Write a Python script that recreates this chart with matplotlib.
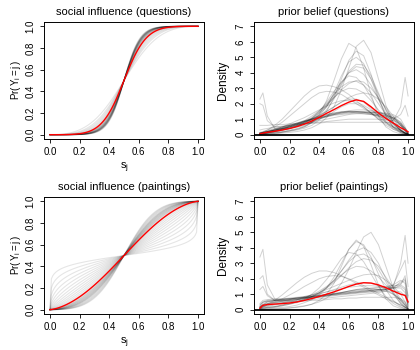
import matplotlib
matplotlib.use("Agg")
import matplotlib.pyplot as plt
import numpy as np

plt.rcParams['font.family'] = ['Liberation Sans', 'DejaVu Sans']
plt.rcParams['mathtext.fontset'] = 'custom'
plt.rcParams['mathtext.rm'] = 'Liberation Sans'
plt.rcParams['mathtext.it'] = 'Liberation Sans:italic'

# s_j grid for the social influence curves
s_grid = np.linspace(0, 1, 101)

# exponents of Pr(Y_i = j) = s^a / (s^a + (1-s)^a), one per gray curve
expo_questions = [2.2, 2.5, 2.7, 2.9, 3.1, 3.3, 3.5, 3.6, 3.7, 3.8, 3.9, 4.0, 4.0,
                  4.1, 4.2, 4.2, 4.3, 4.3, 4.4, 4.4, 4.5, 4.5, 4.6, 4.7, 4.8]
expo_questions_mean = 3.4
expo_paintings = [0.2, 0.3, 0.4, 0.5, 0.6, 0.7, 0.8, 0.9, 1.0, 1.1, 1.2, 1.3, 1.4,
                  1.5, 1.6, 1.6, 1.7, 1.7, 1.8, 1.8, 1.9, 1.9, 2.0, 2.0, 2.1,
                  2.2, 2.3, 2.4, 2.5]
expo_paintings_mean = 1.45

# prior belief densities, read at these x positions
dens_x = [0, .02, .05, .1, .15, .2, .25, .3, .35, .4, .45, .5, .55, .6, .65,
          .7, .75, .8, .85, .9, .95, .98, 1.0]

dens_questions = [
    [0.05,0.1,0.2,0.35,0.5,0.6,0.75,0.9,1.0,1.1,1.2,1.3,1.4,1.45,1.45,1.45,1.45,1.4,1.35,1.2,0.8,0.4,0.1],
    [0.02,0.08,0.15,0.3,0.45,0.55,0.7,0.85,1.0,1.15,1.3,1.4,1.5,1.5,1.5,1.45,1.4,1.3,1.2,1.0,0.6,0.25,0.05],
    [0.1,0.15,0.25,0.4,0.5,0.65,0.75,0.85,0.95,1.05,1.15,1.25,1.3,1.35,1.4,1.4,1.35,1.3,1.25,1.1,0.7,0.3,0.05],
    [0.3,0.35,0.4,0.5,0.55,0.6,0.65,0.7,0.75,0.8,0.85,0.9,0.95,1.0,1.0,1.0,1.0,1.0,0.95,0.9,0.7,0.4,0.1],
    [0.0,0.05,0.1,0.25,0.4,0.55,0.7,0.85,1.0,1.1,1.2,1.3,1.35,1.4,1.45,1.45,1.45,1.45,1.4,1.3,1.0,0.5,0.1],
    [0.0,0.03,0.1,0.2,0.35,0.5,0.65,0.8,0.95,1.1,1.25,1.35,1.45,1.5,1.5,1.5,1.45,1.4,1.3,1.1,0.7,0.3,0.05],
    [0.05,0.1,0.15,0.3,0.4,0.5,0.6,0.75,0.9,1.05,1.2,1.35,1.45,1.55,1.6,1.6,1.55,1.45,1.3,1.05,0.6,0.25,0.05],
    [0.1,0.15,0.2,0.3,0.45,0.6,0.75,0.9,1.05,1.2,1.3,1.4,1.45,1.45,1.4,1.35,1.3,1.25,1.2,1.1,0.8,0.4,0.1],
    [0,0,0.02,0.05,0.1,0.15,0.2,0.3,0.45,0.7,1.1,1.8,2.9,4.3,5.7,6.1,5.3,3.6,1.9,0.8,0.25,0.08,0],
    [0,0.01,0.03,0.08,0.15,0.25,0.35,0.5,0.8,1.3,2.2,3.5,4.9,5.9,5.6,4.3,2.6,1.2,0.5,0.2,0.05,0.02,0],
    [0.02,0.05,0.1,0.15,0.2,0.3,0.4,0.55,0.8,1.2,1.8,2.7,3.8,4.7,5.0,4.6,3.6,2.3,1.2,0.5,0.15,0.05,0],
    [0.05,0.08,0.12,0.2,0.3,0.4,0.55,0.75,1.0,1.4,1.9,2.6,3.4,4.0,4.2,3.9,3.2,2.3,1.4,0.7,0.25,0.1,0.02],
    [0.05,0.1,0.15,0.25,0.35,0.5,0.65,0.85,1.1,1.5,2.0,2.6,3.1,3.4,3.45,3.2,2.7,2.0,1.3,0.7,0.3,0.1,0.02],
    [0.1,0.15,0.2,0.3,0.4,0.55,0.7,0.9,1.2,1.55,1.95,2.4,2.8,3.0,2.95,2.7,2.2,1.6,1.1,0.65,0.3,0.12,0.03],
    [0.02,0.04,0.08,0.12,0.18,0.25,0.35,0.5,0.75,1.1,1.6,2.3,3.2,4.1,4.55,4.5,3.8,2.7,1.6,0.8,0.3,0.1,0],
    [0.1,0.15,0.2,0.3,0.4,0.5,0.65,0.8,1.0,1.25,1.5,1.8,2.1,2.4,2.6,2.7,2.6,2.3,1.8,1.2,0.6,0.25,0.05],
    [0.03,0.06,0.1,0.18,0.28,0.4,0.55,0.75,1.05,1.5,2.1,2.8,3.4,3.8,3.7,3.2,2.4,1.5,0.8,0.35,0.12,0.04,0],
    [0,0.02,0.05,0.1,0.15,0.22,0.3,0.42,0.6,0.95,1.5,2.4,3.6,4.8,5.4,5.1,3.9,2.4,1.2,0.45,0.12,0.03,0],
    [0.05,0.1,0.15,0.2,0.3,0.4,0.55,0.7,0.95,1.3,1.8,2.5,3.3,4.0,4.4,4.3,3.6,2.6,1.6,0.8,0.3,0.1,0.02],
    [0.1,0.12,0.18,0.25,0.35,0.45,0.6,0.8,1.05,1.4,1.85,2.4,2.9,3.3,3.5,3.4,3.0,2.4,1.7,1.0,0.4,0.15,0.03],
    [0.05,0.1,0.2,0.35,0.5,0.7,0.9,1.1,1.35,1.6,1.85,2.05,2.2,2.2,2.1,1.9,1.6,1.25,0.9,0.55,0.25,0.1,0.02],
    [0.1,0.15,0.3,0.6,1.0,1.5,2.0,2.5,2.9,3.15,3.2,3.1,2.9,2.6,2.2,1.8,1.4,1.0,0.7,0.45,0.2,0.08,0.02],
    [0.15,0.2,0.3,0.5,0.8,1.2,1.6,2.0,2.4,2.7,2.8,2.75,2.6,2.3,2.0,1.7,1.4,1.1,0.8,0.5,0.25,0.1,0.02],
    [2.3,2.7,1.2,0.4,0.35,0.4,0.5,0.6,0.8,1.0,1.2,1.5,1.8,2.0,2.0,1.8,1.4,1.0,0.6,0.35,0.2,0.1,0.05],
    [0.05,0.1,0.15,0.25,0.35,0.45,0.55,0.7,0.85,1.0,1.15,1.3,1.4,1.5,1.5,1.45,1.35,1.2,1.0,0.9,1.8,3.7,2.5],
    [2.0,1.9,0.9,0.5,0.5,0.6,0.7,0.85,1.0,1.2,1.5,1.8,2.1,2.3,2.3,2.1,1.7,1.2,0.8,0.5,0.3,0.1,0.03],
    [0.1,0.15,0.2,0.3,0.4,0.5,0.6,0.7,0.8,0.9,1.0,1.1,1.2,1.3,1.35,1.35,1.3,1.2,1.1,1.0,1.3,1.9,1.2],
    [0.6,0.6,0.6,0.65,0.65,0.7,0.7,0.7,0.75,0.75,0.8,0.8,0.8,0.8,0.8,0.8,0.8,0.8,0.8,0.75,0.6,0.4,0.2],
]
dens_questions_mean = [0.05,0.1,0.15,0.22,0.3,0.4,0.52,0.68,0.88,1.12,1.38,1.62,1.88,2.1,2.25,2.15,1.8,1.4,1.05,0.75,0.45,0.3,0.18]

dens_paintings = [
    [0.2,0.45,0.55,0.6,0.65,0.7,0.75,0.8,0.85,0.9,0.95,1.0,1.05,1.1,1.15,1.2,1.25,1.3,1.35,1.4,1.5,1.3,0.3],
    [0.1,0.3,0.5,0.6,0.65,0.7,0.75,0.8,0.85,0.9,0.95,1.0,1.1,1.2,1.3,1.35,1.4,1.45,1.5,1.6,1.9,1.7,0.4],
    [0.3,0.5,0.6,0.65,0.7,0.72,0.75,0.78,0.8,0.85,0.9,0.95,1.0,1.05,1.1,1.15,1.15,1.2,1.2,1.2,1.15,0.9,0.2],
    [0.05,0.15,0.3,0.45,0.55,0.65,0.75,0.85,0.95,1.05,1.15,1.25,1.35,1.45,1.5,1.55,1.55,1.5,1.45,1.4,1.4,1.1,0.2],
    [0.4,0.6,0.65,0.7,0.7,0.75,0.8,0.85,0.9,0.95,1.0,1.05,1.1,1.15,1.2,1.25,1.25,1.3,1.3,1.35,1.6,2.2,0.8],
    [0.3,0.5,0.55,0.6,0.65,0.7,0.75,0.8,0.85,0.9,0.95,1.0,1.05,1.1,1.15,1.2,1.25,1.3,1.35,1.45,1.7,1.9,0.5],
    [0.15,0.35,0.5,0.55,0.6,0.65,0.7,0.75,0.82,0.9,0.98,1.05,1.12,1.2,1.25,1.3,1.35,1.4,1.45,1.55,1.6,1.4,0.3],
    [0,0.01,0.02,0.05,0.08,0.12,0.18,0.25,0.35,0.5,0.75,1.1,1.7,2.6,3.7,4.7,5.0,4.2,2.8,1.4,0.5,0.2,0.05],
    [0,0.02,0.05,0.1,0.15,0.2,0.3,0.45,0.65,0.95,1.4,2.1,3.0,3.9,4.4,4.2,3.4,2.3,1.3,0.6,0.2,0.06,0.01],
    [0.05,0.08,0.12,0.18,0.25,0.35,0.45,0.6,0.8,1.05,1.4,1.9,2.5,3.2,3.8,4.0,3.7,3.0,2.0,1.1,0.4,0.15,0.03],
    [0.05,0.1,0.15,0.2,0.3,0.4,0.5,0.65,0.85,1.1,1.4,1.75,2.2,2.7,3.1,3.3,3.2,2.8,2.1,1.4,0.7,0.3,0.05],
    [0.1,0.15,0.2,0.3,0.4,0.5,0.6,0.75,0.95,1.2,1.5,1.85,2.25,2.6,2.8,2.75,2.5,2.1,1.6,1.1,0.6,0.3,0.05],
    [0.02,0.05,0.1,0.15,0.25,0.35,0.5,0.7,1.0,1.4,1.95,2.6,3.3,3.7,3.6,3.1,2.3,1.5,0.85,0.4,0.15,0.05,0],
    [0.15,0.2,0.25,0.35,0.45,0.55,0.65,0.8,0.95,1.1,1.3,1.5,1.7,1.9,2.1,2.25,2.3,2.2,1.9,1.5,1.0,0.5,0.1],
    [0,0,0.01,0.03,0.06,0.1,0.15,0.22,0.35,0.6,1.0,1.7,2.8,3.9,4.5,4.1,2.9,1.6,0.7,0.25,0.07,0.02,0],
    [0.05,0.1,0.15,0.2,0.3,0.4,0.5,0.65,0.85,1.1,1.45,1.9,2.5,3.1,3.5,3.6,3.3,2.6,1.8,1.0,0.4,0.15,0.03],
    [0.1,0.2,0.35,0.6,0.95,1.35,1.75,2.1,2.35,2.5,2.5,2.4,2.2,1.95,1.7,1.45,1.2,0.95,0.7,0.5,0.3,0.15,0.05],
    [0.15,0.25,0.35,0.5,0.7,0.95,1.2,1.5,1.75,2.0,2.15,2.2,2.15,2.0,1.8,1.55,1.3,1.05,0.8,0.55,0.3,0.15,0.03],
    [3.4,3.9,1.6,0.7,0.6,0.6,0.65,0.7,0.75,0.8,0.9,1.0,1.1,1.2,1.3,1.35,1.35,1.3,1.2,1.0,0.7,0.4,0.1],
    [0.1,0.2,0.3,0.4,0.45,0.5,0.55,0.6,0.65,0.7,0.75,0.8,0.85,0.9,0.95,1.0,1.05,1.1,1.2,1.5,3.0,4.8,3.0],
    [2.0,2.2,1.0,0.6,0.55,0.6,0.65,0.75,0.85,1.0,1.15,1.3,1.45,1.6,1.7,1.75,1.7,1.55,1.3,1.0,0.6,0.3,0.05],
    [0.2,0.3,0.4,0.5,0.55,0.6,0.65,0.7,0.75,0.8,0.85,0.9,0.95,1.0,1.05,1.1,1.15,1.2,1.3,1.6,2.6,3.2,1.5],
    [1.3,1.5,0.9,0.6,0.6,0.65,0.7,0.75,0.8,0.85,0.9,0.95,1.0,1.05,1.1,1.15,1.2,1.25,1.3,1.4,1.8,2.0,0.9],
    [0.2,0.3,0.4,0.45,0.5,0.5,0.55,0.55,0.6,0.6,0.65,0.7,0.7,0.75,0.75,0.8,0.8,0.8,0.8,0.8,0.7,0.5,0.1],
]
dens_paintings_mean = [0.1,0.28,0.33,0.36,0.39,0.43,0.5,0.6,0.72,0.85,1.0,1.15,1.32,1.5,1.65,1.74,1.72,1.6,1.42,1.2,1.0,0.92,0.5]

unit_ticks = [0.0, 0.2, 0.4, 0.6, 0.8, 1.0]
dens_ticks = [0, 1, 2, 3, 4, 5, 6, 7]


def pr_curve(a):
    return s_grid**a / (s_grid**a + (1 - s_grid)**a)


def r_style(ax, yticks, ylim):
    ax.set_xlim(-0.04, 1.04)
    ax.set_ylim(ylim)
    ax.set_xticks(unit_ticks)
    ax.set_xticklabels(['%.1f' % t for t in unit_ticks])
    ax.set_yticks(yticks)
    ax.tick_params(direction='out', length=3, width=0.6, labelsize=7, pad=3)
    ax.tick_params(axis='y', labelrotation=90)
    for lab in ax.get_yticklabels():
        lab.set_va('center')
    for sp in ax.spines.values():
        sp.set_linewidth(0.7)


fig = plt.figure(figsize=(4.2, 3.5), dpi=100)

W, H = 420.0, 350.0
def box(l, t, r, b):
    return [l / W, 1 - b / H, (r - l) / W, (b - t) / H]

panels = [
    (box(44, 22, 204, 139), 'social influence (questions)', expo_questions, expo_questions_mean),
    (box(44, 197, 204, 314), 'social influence (paintings)', expo_paintings, expo_paintings_mean),
]
for pos, title, expos, mean_a in panels:
    ax = fig.add_axes(pos)
    for a in expos:
        ax.plot(s_grid, pr_curve(a), color='black', alpha=0.1, lw=0.8)
    ax.plot(s_grid, pr_curve(mean_a), color='red', lw=1.0)
    r_style(ax, unit_ticks, (-0.04, 1.04))
    ax.set_yticklabels(['%.1f' % t for t in unit_ticks])
    ax.set_title(title, fontsize=8, pad=5)
    ax.set_xlabel(r'$\mathrm{s}_{\mathrm{j}}$', fontsize=8, labelpad=2)
    ax.set_ylabel(r'$\mathrm{Pr}\left(\,\mathrm{Y}_{\mathrm{i}} = \mathrm{j}\,\right)$',
                  fontsize=7, labelpad=2)

panels = [
    (box(254, 22, 414, 139), 'prior belief (questions)', dens_questions, dens_questions_mean),
    (box(254, 197, 414, 314), 'prior belief (paintings)', dens_paintings, dens_paintings_mean),
]
for pos, title, curves, mean_curve in panels:
    ax = fig.add_axes(pos)
    for c in curves:
        ax.plot(dens_x, c, color='black', alpha=0.18, lw=0.7)
    ax.plot(dens_x, mean_curve, color='red', lw=1.0)
    ax.axhline(0, color='black', lw=1.3)
    r_style(ax, dens_ticks, (-0.28, 7.28))
    ax.set_title(title, fontsize=8, pad=5)
    ax.set_ylabel('Density', fontsize=8.5, labelpad=5)

fig.savefig('out.png', dpi=100)
